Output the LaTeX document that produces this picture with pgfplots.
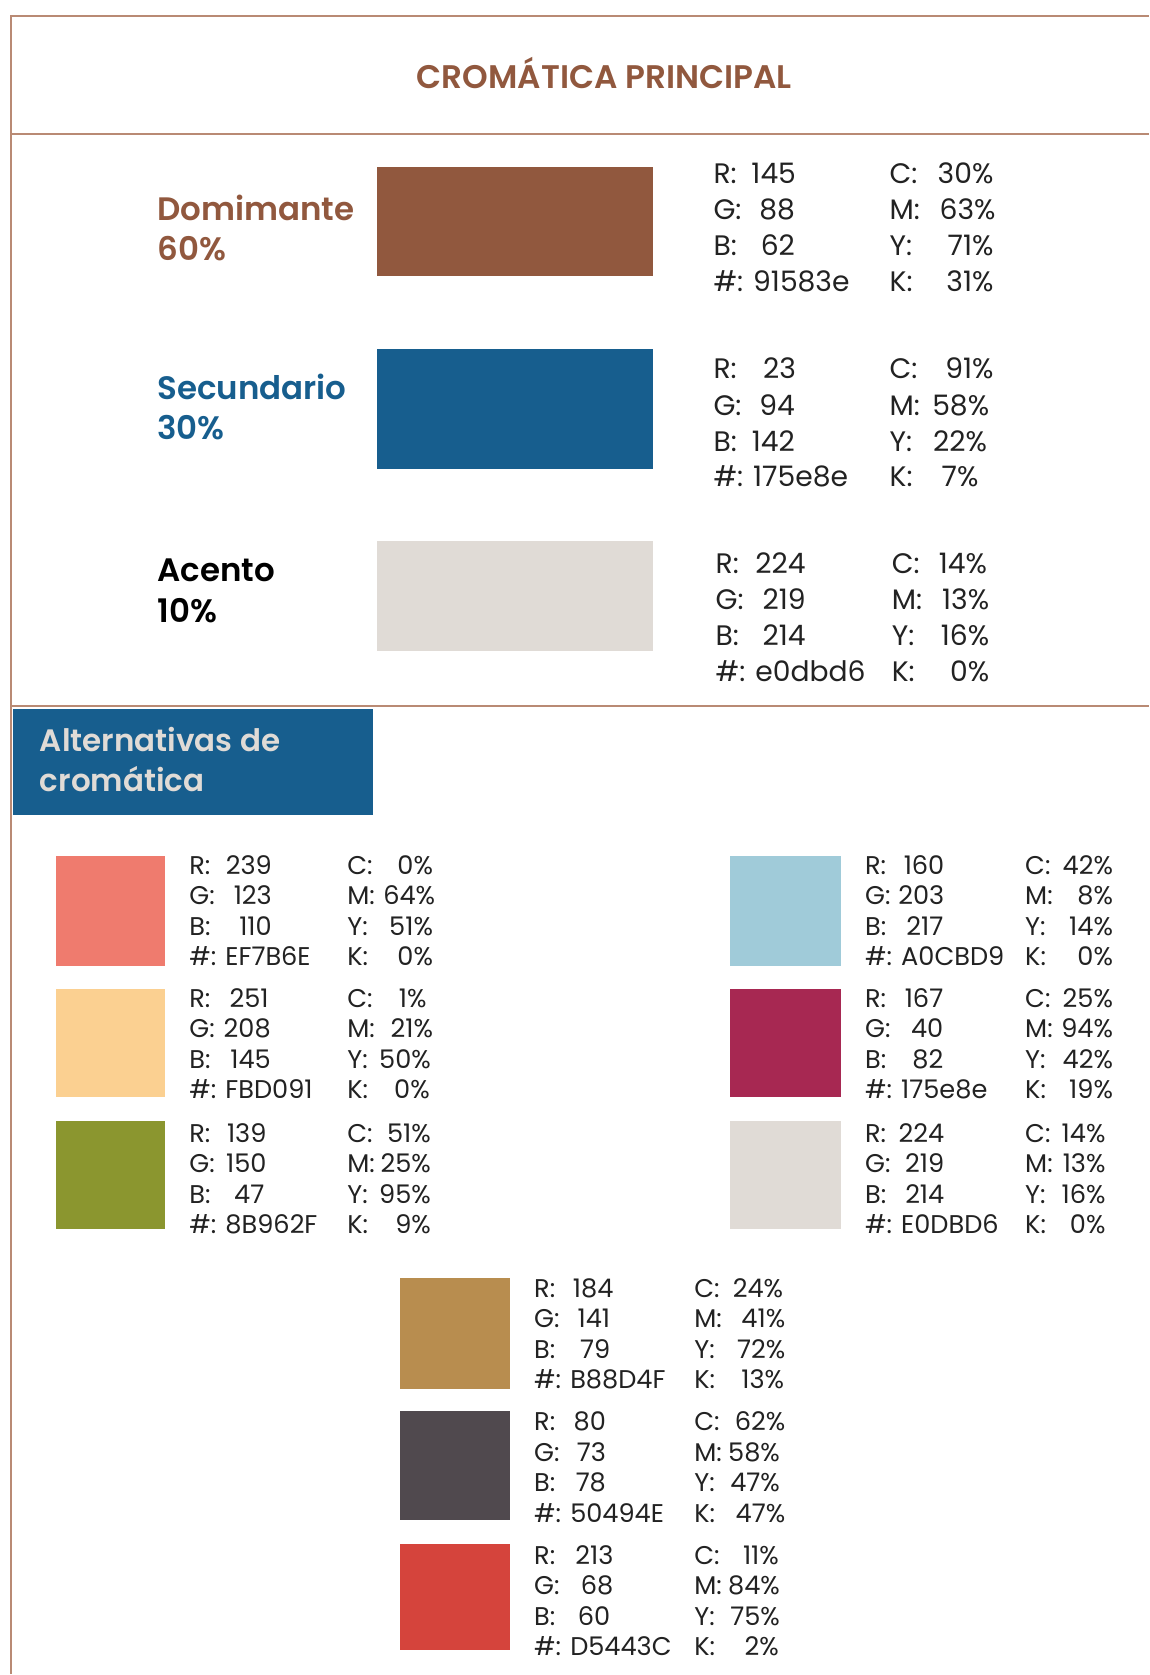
\documentclass[border=0pt]{standalone}
\usepackage{pgfplots}
\pgfplotsset{compat=1.18}
\usepackage{fontspec}
\setmainfont{Poppins}[BoldFont={Poppins SemiBold}]
\definecolor{dom}{HTML}{91583E}
\definecolor{sec}{HTML}{175E8E}
\definecolor{acc}{HTML}{E0DBD6}
\definecolor{frame}{HTML}{B98A74}
\definecolor{txt}{HTML}{222222}
\definecolor{cA}{HTML}{EF7B6E}
\definecolor{cB}{HTML}{FBD091}
\definecolor{cC}{HTML}{8B962F}
\definecolor{cD}{HTML}{A0CBD9}
\definecolor{cE}{HTML}{A72852}
\definecolor{cF}{HTML}{E0DBD6}
\definecolor{cG}{HTML}{B88D4F}
\definecolor{cH}{HTML}{50494E}
\definecolor{cI}{HTML}{D5443C}
% rectangle from data: x1,y1,x2,y2,colour
\newcommand\rect[5]{\addplot[fill=#5, draw=none] coordinates {(#1,#2) (#3,#2) (#3,#4) (#1,#4)} -- cycle;}
\newcommand\lab[3]{\node[anchor=base west, inner sep=0pt, text=txt] at (axis cs:#1,#2) {#3};}
\newcommand\val[3]{\node[anchor=base east, inner sep=0pt, text=txt] at (axis cs:#1,#2) {#3};}
\begin{document}
\begin{tikzpicture}
\begin{axis}[scale only axis, width=538pt, height=784pt,
  xmin=0, xmax=1076, ymin=0, ymax=1568, y dir=reverse,
  hide axis, clip=false]
\addplot[fill=white, draw=none] coordinates {(0,0) (1076,0) (1076,1568) (0,1568)} -- cycle;
% frame lines
\addplot[frame, line width=1.1pt] coordinates {(1076,15) (10.3,15) (10.3,1568)};
\addplot[frame, line width=1.1pt] coordinates {(10.3,125.8) (1076,125.8)};
\addplot[frame, line width=1.1pt] coordinates {(10.3,661.5) (1076,661.5)};
% title
\node[anchor=base, inner sep=0pt, text=dom, font=\fontsize{15.3}{18}\selectfont\bfseries] at (axis cs:566,83) {CROMÁTICA PRINCIPAL};
% main swatches
\rect{353}{156}{612}{259}{dom}
\rect{353}{327}{612}{439}{sec}
\rect{353}{507}{612}{610}{acc}
% main labels
\begin{scope}[font=\fontsize{15.2}{18}\selectfont\bfseries]
\node[anchor=base west, inner sep=0pt, text=dom] at (axis cs:147,207) {Domimante};
\node[anchor=base west, inner sep=0pt, text=dom] at (axis cs:147,244) {60\%};
\node[anchor=base west, inner sep=0pt, text=sec] at (axis cs:147,374.5) {Secundario};
\node[anchor=base west, inner sep=0pt, text=sec] at (axis cs:147,412) {30\%};
\node[anchor=base west, inner sep=0pt, text=black] at (axis cs:147,545) {Acento};
\node[anchor=base west, inner sep=0pt, text=black] at (axis cs:147,583) {10\%};
\end{scope}
% main info
\begin{scope}[font=\fontsize{13.2}{16}\selectfont]
\lab{668}{171.5}{R:} \val{746}{171.5}{145}
\lab{668}{205.5}{G:} \val{745}{205.5}{88}
\lab{668}{239.5}{B:} \val{745}{239.5}{62}
\lab{668}{273}{\#: 91583e}
\lab{833}{171.5}{C:} \val{931}{171.5}{30\%}
\lab{833}{205.5}{M:} \val{933}{205.5}{63\%}
\lab{833}{239.5}{Y:} \val{931}{239.5}{71\%}
\lab{833}{273}{K:} \val{931}{273}{31\%}
%
\lab{668}{355}{R:} \val{746}{355}{23}
\lab{668}{389}{G:} \val{745}{389}{94}
\lab{668}{422.5}{B:} \val{745}{422.5}{142}
\lab{668}{456}{\#: 175e8e}
\lab{833}{355}{C:} \val{931}{355}{91\%}
\lab{833}{389}{M:} \val{927}{389}{58\%}
\lab{833}{422.5}{Y:} \val{925}{422.5}{22\%}
\lab{833}{456}{K:} \val{917}{456}{7\%}
%
\lab{670}{537}{R:} \val{755}{537}{224}
\lab{670}{571}{G:} \val{755}{571}{219}
\lab{670}{605}{B:} \val{755}{605}{214}
\lab{670}{638.5}{\#: e0dbd6}
\lab{835}{537}{C:} \val{925}{537}{14\%}
\lab{835}{571}{M:} \val{927}{571}{13\%}
\lab{835}{605}{Y:} \val{927}{605}{16\%}
\lab{835}{638.5}{K:} \val{927}{638.5}{0\%}
\end{scope}
% alternatives header
\rect{12}{664}{349.5}{763}{sec}
\node[anchor=base west, inner sep=0pt, text=acc, font=\fontsize{14.5}{18}\selectfont\bfseries] at (axis cs:37,704) {Alternativas de};
\node[anchor=base west, inner sep=0pt, text=acc, font=\fontsize{14.5}{18}\selectfont\bfseries] at (axis cs:37,741) {cromática};
% alternative swatches
\rect{52}{802}{155}{905}{cA}
\rect{52}{926}{155}{1028}{cB}
\rect{52}{1050}{155}{1151}{cC}
\rect{684}{802}{788}{905}{cD}
\rect{684}{926}{788}{1028}{cE}
\rect{684}{1050}{788}{1151}{cF}
\rect{375}{1197}{478}{1301}{cG}
\rect{375}{1322}{478}{1424}{cH}
\rect{375}{1446}{478}{1546}{cI}
\begin{scope}[font=\fontsize{12}{14}\selectfont]
% left 1
\lab{177}{819}{R:} \val{255}{819}{239}
\lab{177}{847.5}{G:} \val{255}{847.5}{123}
\lab{177}{876}{B:} \val{255}{876}{110}
\lab{177}{904.5}{\#: EF7B6E}
\lab{325}{819}{C:} \val{406}{819}{0\%}
\lab{325}{847.5}{M:} \val{408}{847.5}{64\%}
\lab{325}{876}{Y:} \val{406}{876}{51\%}
\lab{325}{904.5}{K:} \val{406}{904.5}{0\%}
% left 2
\lab{177}{943.5}{R:} \val{252}{943.5}{251}
\lab{177}{972}{G:} \val{254}{972}{208}
\lab{177}{1000.5}{B:} \val{254}{1000.5}{145}
\lab{177}{1029}{\#: FBD091}
\lab{325}{943.5}{C:} \val{400}{943.5}{1\%}
\lab{325}{972}{M:} \val{406}{972}{21\%}
\lab{325}{1000.5}{Y:} \val{404}{1000.5}{50\%}
\lab{325}{1029}{K:} \val{403}{1029}{0\%}
% left 3
\lab{177}{1070}{R:} \val{250}{1070}{139}
\lab{177}{1098.5}{G:} \val{250}{1098.5}{150}
\lab{177}{1127}{B:} \val{248}{1127}{47}
\lab{177}{1155.5}{\#: 8B962F}
\lab{325}{1070}{C:} \val{404}{1070}{51\%}
\lab{325}{1098.5}{M:} \val{404}{1098.5}{25\%}
\lab{325}{1127}{Y:} \val{404}{1127}{95\%}
\lab{325}{1155.5}{K:} \val{404}{1155.5}{9\%}
% right 1
\lab{810}{819}{R:} \val{885}{819}{160}
\lab{810}{847.5}{G:} \val{885}{847.5}{203}
\lab{810}{876}{B:} \val{884}{876}{217}
\lab{810}{904.5}{\#: A0CBD9}
\lab{960}{819}{C:} \val{1043}{819}{42\%}
\lab{960}{847.5}{M:} \val{1043}{847.5}{8\%}
\lab{960}{876}{Y:} \val{1043}{876}{14\%}
\lab{960}{904.5}{K:} \val{1043}{904.5}{0\%}
% right 2
\lab{810}{943.5}{R:} \val{884}{943.5}{167}
\lab{810}{972}{G:} \val{884}{972}{40}
\lab{810}{1000.5}{B:} \val{884}{1000.5}{82}
\lab{810}{1029}{\#: 175e8e}
\lab{960}{943.5}{C:} \val{1043}{943.5}{25\%}
\lab{960}{972}{M:} \val{1043}{972}{94\%}
\lab{960}{1000.5}{Y:} \val{1043}{1000.5}{42\%}
\lab{960}{1029}{K:} \val{1043}{1029}{19\%}
% right 3
\lab{810}{1070}{R:} \val{885}{1070}{224}
\lab{810}{1098.5}{G:} \val{885}{1098.5}{219}
\lab{810}{1127}{B:} \val{885}{1127}{214}
\lab{810}{1155.5}{\#: E0DBD6}
\lab{960}{1070}{C:} \val{1036}{1070}{14\%}
\lab{960}{1098.5}{M:} \val{1036}{1098.5}{13\%}
\lab{960}{1127}{Y:} \val{1036}{1127}{16\%}
\lab{960}{1155.5}{K:} \val{1036}{1155.5}{0\%}
% centre 1
\lab{500}{1215.5}{R:} \val{575}{1215.5}{184}
\lab{500}{1244}{G:} \val{572}{1244}{141}
\lab{500}{1272.5}{B:} \val{572}{1272.5}{79}
\lab{500}{1301}{\#: B88D4F}
\lab{650}{1215.5}{C:} \val{734}{1215.5}{24\%}
\lab{650}{1244}{M:} \val{736}{1244}{41\%}
\lab{650}{1272.5}{Y:} \val{736}{1272.5}{72\%}
\lab{650}{1301}{K:} \val{735}{1301}{13\%}
% centre 2
\lab{500}{1340.5}{R:} \val{568}{1340.5}{80}
\lab{500}{1369}{G:} \val{568}{1369}{73}
\lab{500}{1397.5}{B:} \val{568}{1397.5}{78}
\lab{500}{1426}{\#: 50494E}
\lab{650}{1340.5}{C:} \val{736}{1340.5}{62\%}
\lab{650}{1369}{M:} \val{731}{1369}{58\%}
\lab{650}{1397.5}{Y:} \val{731}{1397.5}{47\%}
\lab{650}{1426}{K:} \val{736}{1426}{47\%}
% centre 3
\lab{500}{1465.5}{R:} \val{575}{1465.5}{213}
\lab{500}{1494}{G:} \val{575}{1494}{68}
\lab{500}{1522.5}{B:} \val{572}{1522.5}{60}
\lab{500}{1551}{\#: D5443C}
\lab{650}{1465.5}{C:} \val{730}{1465.5}{11\%}
\lab{650}{1494}{M:} \val{731}{1494}{84\%}
\lab{650}{1522.5}{Y:} \val{731}{1522.5}{75\%}
\lab{650}{1551}{K:} \val{730}{1551}{2\%}
\end{scope}
\end{axis}
\end{tikzpicture}
\end{document}
